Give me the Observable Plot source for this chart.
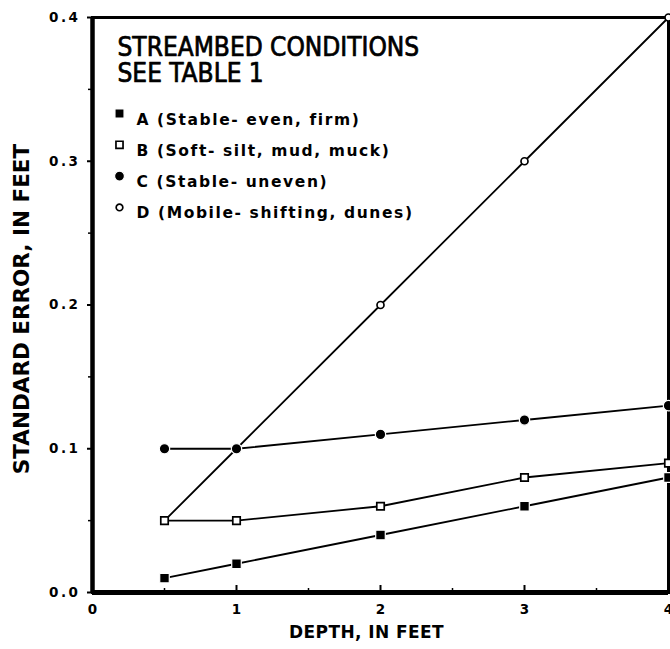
<!DOCTYPE html>
<html>
<head>
<meta charset="utf-8">
<script src="https://cdn.jsdelivr.net/npm/d3@7"></script>
<script src="https://cdn.jsdelivr.net/npm/@observablehq/plot@0.6"></script>
<style>
  html, body { margin: 0; padding: 0; background: #fff; }
  #chart svg { display: block; }
</style>
</head>
<body>
<div id="chart"></div>
<script>
// ---- data ----
const depth = [0.5, 1, 2, 3, 4];
const seriesA = [0.01, 0.02, 0.04, 0.06, 0.08];
const seriesB = [0.05, 0.05, 0.06, 0.08, 0.09];
const seriesC = [0.10, 0.10, 0.11, 0.12, 0.13];
const seriesD = [0.05, 0.10, 0.20, 0.30, 0.40];
const seriesKeys = ["A", "B", "C", "D"];
const legendLabels = [
  "A (Stable- even, firm)",
  "B (Soft- silt, mud, muck)",
  "C (Stable- uneven)",
  "D (Mobile- shifting, dunes)"
];
const legendTitle = "STREAMBED CONDITIONS\nSEE TABLE 1";
const xTicks = [0, 1, 2, 3, 4];
const xInnerTicks = [1, 2, 3];
const xMinorTicks = [0.5, 1.5, 2.5, 3.5];
const yTicks = [0, 0.1, 0.2, 0.3, 0.4];
const yMinorTicks = [0.05, 0.15, 0.25, 0.35];
const xTitle = "DEPTH, IN FEET";
const yTitle = "STANDARD ERROR, IN FEET";

// ---- table built from arrays ----
const valuesByKey = {A: seriesA, B: seriesB, C: seriesC, D: seriesD};
const rows = [];
for (const k of seriesKeys) valuesByKey[k].forEach((v, i) => rows.push({key: k, depth: depth[i], se: v}));

const style = {
  A: {symbol: "square", fill: "black", stroke: "white", r: 5.4, sw: 1.2},
  B: {symbol: "square", fill: "white", stroke: "black", r: 4.2, sw: 1.7},
  C: {symbol: "circle", fill: "black", stroke: "white", r: 5.2, sw: 1.2},
  D: {symbol: "circle", fill: "white", stroke: "black", r: 3.5, sw: 1.7}
};
const drawOrder = ["D", "B", "C", "A"];

const font = "DejaVu Sans";

const marks = [
  Plot.frame({stroke: "black", strokeWidth: 3}),
  Plot.ruleX([0], {stroke: "black", strokeWidth: 4.5}),
  Plot.ruleY([0], {stroke: "black", strokeWidth: 5}),
  Plot.axisY({ticks: yTicks, tickFormat: d => d.toFixed(1), tickSize: 5, tickPadding: 7, label: null, fontSize: 13.5, fontWeight: "bold", strokeWidth: 2}),
  Plot.axisY({ticks: yMinorTicks, tickFormat: () => "", tickSize: 4, label: null, strokeWidth: 1.5}),
  Plot.axisX({ticks: xTicks, tickFormat: d => String(d), tickSize: 0, tickPadding: 12, label: null, fontSize: 13.5, fontWeight: "bold"}),
  Plot.axisX({ticks: xInnerTicks, tickFormat: () => "", tickSize: -7, label: null, strokeWidth: 2}),
  Plot.axisX({ticks: xMinorTicks, tickFormat: () => "", tickSize: -4, label: null, strokeWidth: 1.5}),
  Plot.line(rows, {x: "depth", y: "se", z: "key", stroke: "black", strokeWidth: 1.8})
];
for (const k of drawOrder) {
  const s = style[k];
  marks.push(Plot.dot(rows.filter(d => d.key === k), {x: "depth", y: "se", symbol: () => s.symbol, r: s.r, fill: s.fill, stroke: s.stroke, strokeWidth: s.sw}));
}
// axis titles
marks.push(Plot.text([yTitle], {frameAnchor: "left", dx: -70, dy: 4, rotate: -90, textAnchor: "middle", fontSize: 21.5, fontWeight: "bold", fill: "black"}));
marks.push(Plot.text([xTitle], {frameAnchor: "bottom", dx: -14, dy: 45, textAnchor: "middle", fontSize: 17, fontWeight: "bold", fill: "black"}));
// legend
marks.push(Plot.text([legendTitle], {frameAnchor: "top-left", dx: 25, dy: 20, lineAnchor: "top", lineHeight: 1.0, textAnchor: "start", fontSize: 26, fontFamily: "DejaVu Sans Condensed", fill: "black", stroke: "black", strokeWidth: 0.7}));
legendLabels.forEach((lab, i) => {
  const s = style[seriesKeys[i]];
  marks.push(Plot.dot([seriesKeys[i]], {frameAnchor: "top-left", dx: 27, dy: 96 + i * 31.3, symbol: () => s.symbol, r: s.r * 0.95, fill: s.fill, stroke: s.stroke, strokeWidth: s.sw}));
  marks.push(Plot.text([lab], {frameAnchor: "top-left", dx: 44, dy: 96 + i * 31.3, textAnchor: "start", fontSize: 15.5, fontWeight: "bold", fill: "black"}));
});

const chart = Plot.plot({
  width: 670,
  height: 649,
  marginLeft: 92,
  marginRight: 2,
  marginTop: 17,
  marginBottom: 57,
  style: {fontFamily: font, background: "white", color: "black"},
  x: {domain: [0, 4]},
  y: {domain: [0, 0.4]},
  marks
});
document.getElementById("chart").appendChild(chart);

// letter spacing tweaks, matched by text content
const yTickStrings = yTicks.map(d => d.toFixed(1));
const xTickStrings = xTicks.map(String);
d3.select(chart).selectAll("text").each(function () {
  const t = this.textContent;
  if (legendLabels.includes(t)) this.style.letterSpacing = "1.6px";
  else if (yTickStrings.includes(t)) this.style.letterSpacing = "2.5px";
  else if (xTickStrings.includes(t)) this.style.letterSpacing = "0px";
  else if (t === xTitle) this.style.letterSpacing = "0.4px";
});
</script>
</body>
</html>
